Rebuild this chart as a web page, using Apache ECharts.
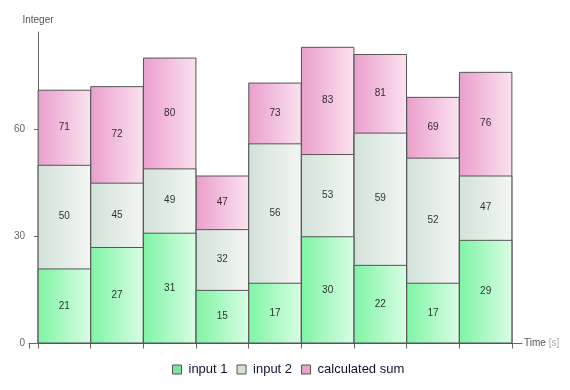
<!DOCTYPE html>
<html>
<head>
<meta charset="utf-8">
<script src="https://cdn.jsdelivr.net/npm/echarts@6/dist/echarts.min.js"></script>
<style>html,body{margin:0;padding:0;background:#fff}#c{width:570px;height:390px}</style>
</head>
<body>
<div id="c"></div>
<script>
// Data
const categories = ['1','2','3','4','5','6','7','8','9'];
const input1 = [21, 27, 31, 15, 17, 30, 22, 17, 29];
const input2 = [50, 45, 49, 32, 56, 53, 59, 52, 47];
const calcSum = [71, 72, 80, 47, 73, 83, 81, 69, 76];
const yTicks = [0, 30, 60];
const seriesNames = ['input 1', 'input 2', 'calculated sum'];

function grad(a, b) {
  return new echarts.graphic.LinearGradient(0, 0, 1, 0, [
    { offset: 0, color: a }, { offset: 1, color: b }
  ]);
}
const colors = [
  grad('#7ef4a4', '#dafde5'),
  grad('#d2e2d9', '#f3f6f3'),
  grad('#eb9ecd', '#fae3ef')
];
const legendColors = ['#78e8a0', '#d4e2da', '#e8a4cc'];

// bars centred on i + 0.5 so that boundaries fall on integers
const pos = categories.map((c, i) => i + 0.5);
const layers = [input1, input2, calcSum];

// overlapping bars: each drawn from 0 to its value, sum at the back
const barSeries = [2, 1, 0].map(k => ({
  name: seriesNames[k],
  type: 'bar',
  barCategoryGap: '-1.5%',
  barGap: '-100%',
  z: 2 + (2 - k),
  data: layers[k].map((v, i) => [pos[i], v]),
  itemStyle: { color: colors[k], borderColor: '#555', borderWidth: 1 }
}));

// value labels in the middle of each visible part
const labelData = [];
layers.forEach((arr, k) => arr.forEach((v, i) => {
  const lo = k === 0 ? 0 : layers[k - 1][i];
  labelData.push({ value: [pos[i], (lo + v) / 2], txt: String(v) });
}));
const labelSeries = {
  name: 'labels',
  type: 'scatter',
  symbolSize: 0,
  z: 10,
  silent: true,
  data: labelData,
  label: {
    show: true,
    position: 'inside',
    color: '#000',
    fontFamily: 'Liberation Sans',
    fontSize: 10,
    formatter: p => p.data.txt
  }
};

const chart = echarts.init(document.getElementById('c'), null, { renderer: 'canvas' });
chart.setOption({
  animation: false,
  grid: { left: 29, right: 48, top: 32, bottom: 46.5, containLabel: false },
  legend: {
    bottom: 9,
    left: 167,
    itemWidth: 9,
    itemHeight: 9,
    itemGap: 9,
    icon: 'rect',
    textStyle: { fontFamily: 'Liberation Sans', fontSize: 13, color: '#111133', padding: [0, 0, 0, 2] },
    data: seriesNames.map((n, k) => ({
      name: n,
      itemStyle: { color: legendColors[k], borderColor: '#555', borderWidth: 1 }
    }))
  },
  xAxis: {
    type: 'value',
    min: -0.171,
    max: 9.19,
    name: '{a|Time }{b|[s]}',
    nameLocation: 'end',
    nameGap: 2,
    nameTextStyle: {
      rich: {
        a: { fontFamily: 'Liberation Sans', fontSize: 10, color: '#555' },
        b: { fontFamily: 'Liberation Sans', fontSize: 10, color: '#aaa' }
      }
    },
    axisLine: { show: true, lineStyle: { color: '#666', width: 1 } },
    axisTick: {
      show: true,
      length: 5,
      lineStyle: { color: '#666' },
      customValues: [-0.171].concat(categories.map((c, i) => i)).concat([categories.length])
    },
    axisLabel: { show: false },
    splitLine: { show: false }
  },
  yAxis: {
    type: 'value',
    min: 0,
    max: 87.15,
    name: 'Integer',
    nameLocation: 'end',
    nameGap: 7,
    nameTextStyle: { fontFamily: 'Liberation Sans', fontSize: 10, color: '#555' },
    axisLine: { show: true, lineStyle: { color: '#666', width: 1 } },
    axisTick: { show: true, length: 4, lineStyle: { color: '#666' }, customValues: yTicks },
    axisLabel: {
      customValues: yTicks,
      fontFamily: 'Liberation Sans', fontSize: 10, color: '#666', margin: 4
    },
    splitLine: { show: false }
  },
  series: barSeries.concat([labelSeries])
});
</script>
</body>
</html>
